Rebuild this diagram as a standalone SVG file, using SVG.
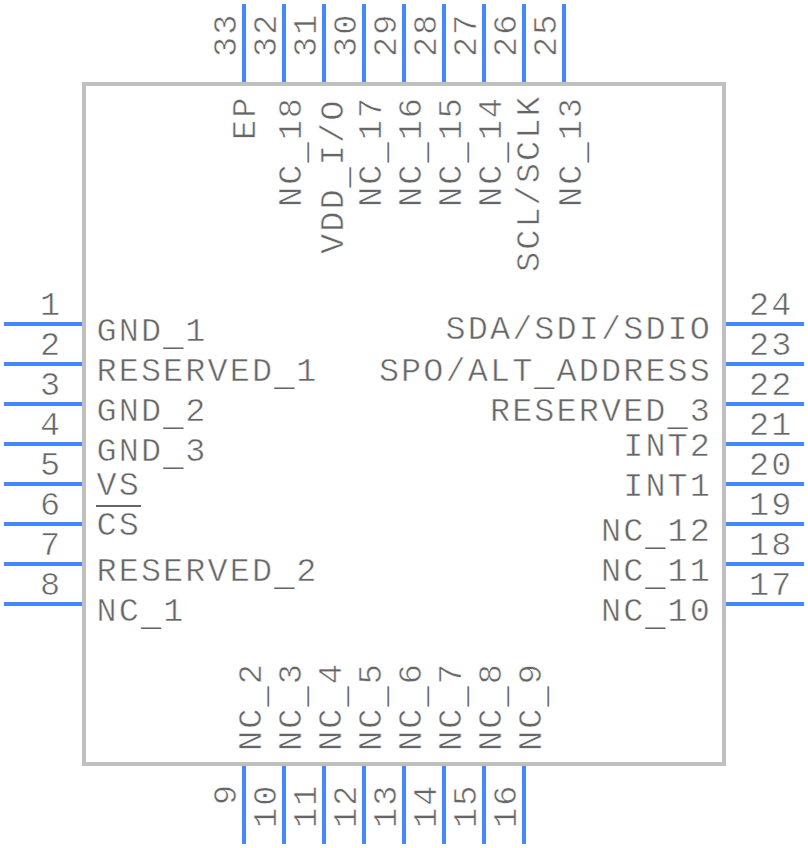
<svg xmlns="http://www.w3.org/2000/svg" width="808" height="848" viewBox="0 0 808 848">
<style>
text{font-family:"Liberation Mono","Courier New",monospace;font-size:33.5px;letter-spacing:2.1px;fill:#666666;stroke:#ffffff;stroke-width:.55px}
.u{stroke:none}
.e{text-anchor:end}.m{text-anchor:middle}
#connectors line{stroke:#4488ff;stroke-width:4}
#body rect{fill:none;stroke:#c0c0c0;stroke-width:4}
</style>
<rect width="808" height="848" fill="#ffffff"/>
<g id="body"><rect x="84" y="84" width="640" height="680"/></g>
<g id="connectors">
<line x1="4" y1="324" x2="82" y2="324"/><line x1="4" y1="364" x2="82" y2="364"/><line x1="4" y1="404" x2="82" y2="404"/><line x1="4" y1="444" x2="82" y2="444"/><line x1="4" y1="484" x2="82" y2="484"/><line x1="4" y1="524" x2="82" y2="524"/><line x1="4" y1="564" x2="82" y2="564"/><line x1="4" y1="604" x2="82" y2="604"/>
<line x1="726" y1="324" x2="804" y2="324"/><line x1="726" y1="364" x2="804" y2="364"/><line x1="726" y1="404" x2="804" y2="404"/><line x1="726" y1="444" x2="804" y2="444"/><line x1="726" y1="484" x2="804" y2="484"/><line x1="726" y1="524" x2="804" y2="524"/><line x1="726" y1="564" x2="804" y2="564"/><line x1="726" y1="604" x2="804" y2="604"/>
<line x1="244" y1="4" x2="244" y2="82"/><line x1="284" y1="4" x2="284" y2="82"/><line x1="324" y1="4" x2="324" y2="82"/><line x1="364" y1="4" x2="364" y2="82"/><line x1="404" y1="4" x2="404" y2="82"/><line x1="444" y1="4" x2="444" y2="82"/><line x1="484" y1="4" x2="484" y2="82"/><line x1="524" y1="4" x2="524" y2="82"/><line x1="564" y1="4" x2="564" y2="82"/>
<line x1="244" y1="766" x2="244" y2="844"/><line x1="284" y1="766" x2="284" y2="844"/><line x1="324" y1="766" x2="324" y2="844"/><line x1="364" y1="766" x2="364" y2="844"/><line x1="404" y1="766" x2="404" y2="844"/><line x1="444" y1="766" x2="444" y2="844"/><line x1="484" y1="766" x2="484" y2="844"/><line x1="524" y1="766" x2="524" y2="844"/>
</g>
<g id="pin-1"><text class="m" x="51" y="315">1</text><text x="96.5" y="341">GND<tspan class="u" dy="4">_</tspan><tspan dy="-4">1</tspan></text></g>
<g id="pin-2"><text class="m" x="51" y="355">2</text><text x="96.5" y="381">RESERVED<tspan class="u" dy="4">_</tspan><tspan dy="-4">1</tspan></text></g>
<g id="pin-3"><text class="m" x="51" y="395">3</text><text x="96.5" y="421">GND<tspan class="u" dy="4">_</tspan><tspan dy="-4">2</tspan></text></g>
<g id="pin-4"><text class="m" x="51" y="435">4</text><text x="96.5" y="461">GND<tspan class="u" dy="4">_</tspan><tspan dy="-4">3</tspan></text></g>
<g id="pin-5"><text class="m" x="51" y="475">5</text><text x="96.5" y="495">VS</text></g>
<g id="pin-6"><text class="m" x="51" y="515">6</text><text x="96.5" y="535">CS</text><path d="M96 506H141" stroke="#666666" stroke-width="2" fill="none"/></g>
<g id="pin-7"><text class="m" x="51" y="555">7</text><text x="96.5" y="581">RESERVED<tspan class="u" dy="4">_</tspan><tspan dy="-4">2</tspan></text></g>
<g id="pin-8"><text class="m" x="51" y="595">8</text><text x="96.5" y="621">NC<tspan class="u" dy="4">_</tspan><tspan dy="-4">1</tspan></text></g>
<g id="pin-24"><text x="749" y="315">24</text><text class="e" x="712" y="339">SDA/SDI/SDIO</text></g>
<g id="pin-23"><text x="749" y="355">23</text><text class="e" x="712" y="381">SPO/ALT<tspan class="u" dy="4">_</tspan><tspan dy="-4">ADDRESS</tspan></text></g>
<g id="pin-22"><text x="749" y="395">22</text><text class="e" x="712" y="421">RESERVED<tspan class="u" dy="4">_</tspan><tspan dy="-4">3</tspan></text></g>
<g id="pin-21"><text x="749" y="435">21</text><text class="e" x="712" y="456">INT2</text></g>
<g id="pin-20"><text x="749" y="475">20</text><text class="e" x="712" y="496">INT1</text></g>
<g id="pin-19"><text x="749" y="515">19</text><text class="e" x="712" y="541">NC<tspan class="u" dy="4">_</tspan><tspan dy="-4">12</tspan></text></g>
<g id="pin-18"><text x="749" y="555">18</text><text class="e" x="712" y="581">NC<tspan class="u" dy="4">_</tspan><tspan dy="-4">11</tspan></text></g>
<g id="pin-17"><text x="749" y="595">17</text><text class="e" x="712" y="621">NC<tspan class="u" dy="4">_</tspan><tspan dy="-4">10</tspan></text></g>
<g id="pin-33"><text transform="translate(236 57) rotate(-90)">33</text><text transform="translate(255 140) rotate(-90)">EP</text></g>
<g id="pin-32"><text transform="translate(276 57) rotate(-90)">32</text><text transform="translate(301 207) rotate(-90)">NC<tspan class="u" dy="4">_</tspan><tspan dy="-4">18</tspan></text></g>
<g id="pin-31"><text transform="translate(316 57) rotate(-90)">31</text><text transform="translate(343 254) rotate(-90)">VDD<tspan class="u" dy="4">_</tspan><tspan dy="-4">I/O</tspan></text></g>
<g id="pin-30"><text transform="translate(356 57) rotate(-90)">30</text><text transform="translate(381 207) rotate(-90)">NC<tspan class="u" dy="4">_</tspan><tspan dy="-4">17</tspan></text></g>
<g id="pin-29"><text transform="translate(396 57) rotate(-90)">29</text><text transform="translate(421 207) rotate(-90)">NC<tspan class="u" dy="4">_</tspan><tspan dy="-4">16</tspan></text></g>
<g id="pin-28"><text transform="translate(436 57) rotate(-90)">28</text><text transform="translate(461 207) rotate(-90)">NC<tspan class="u" dy="4">_</tspan><tspan dy="-4">15</tspan></text></g>
<g id="pin-27"><text transform="translate(476 57) rotate(-90)">27</text><text transform="translate(501 207) rotate(-90)">NC<tspan class="u" dy="4">_</tspan><tspan dy="-4">14</tspan></text></g>
<g id="pin-26"><text transform="translate(516 57) rotate(-90)">26</text><text transform="translate(539 272) rotate(-90)">SCL/SCLK</text></g>
<g id="pin-25"><text transform="translate(556 57) rotate(-90)">25</text><text transform="translate(581 207) rotate(-90)">NC<tspan class="u" dy="4">_</tspan><tspan dy="-4">13</tspan></text></g>
<g id="pin-9"><text transform="translate(236 805) rotate(-90)">9</text><text transform="translate(261 751) rotate(-90)">NC<tspan class="u" dy="4">_</tspan><tspan dy="-4">2</tspan></text></g>
<g id="pin-10"><text transform="translate(276 828) rotate(-90)">10</text><text transform="translate(301 751) rotate(-90)">NC<tspan class="u" dy="4">_</tspan><tspan dy="-4">3</tspan></text></g>
<g id="pin-11"><text transform="translate(316 828) rotate(-90)">11</text><text transform="translate(341 751) rotate(-90)">NC<tspan class="u" dy="4">_</tspan><tspan dy="-4">4</tspan></text></g>
<g id="pin-12"><text transform="translate(356 828) rotate(-90)">12</text><text transform="translate(381 751) rotate(-90)">NC<tspan class="u" dy="4">_</tspan><tspan dy="-4">5</tspan></text></g>
<g id="pin-13"><text transform="translate(396 828) rotate(-90)">13</text><text transform="translate(421 751) rotate(-90)">NC<tspan class="u" dy="4">_</tspan><tspan dy="-4">6</tspan></text></g>
<g id="pin-14"><text transform="translate(436 828) rotate(-90)">14</text><text transform="translate(461 751) rotate(-90)">NC<tspan class="u" dy="4">_</tspan><tspan dy="-4">7</tspan></text></g>
<g id="pin-15"><text transform="translate(476 828) rotate(-90)">15</text><text transform="translate(501 751) rotate(-90)">NC<tspan class="u" dy="4">_</tspan><tspan dy="-4">8</tspan></text></g>
<g id="pin-16"><text transform="translate(516 828) rotate(-90)">16</text><text transform="translate(541 751) rotate(-90)">NC<tspan class="u" dy="4">_</tspan><tspan dy="-4">9</tspan></text></g>
</svg>
